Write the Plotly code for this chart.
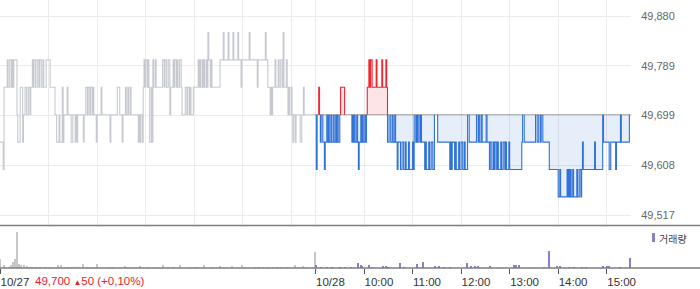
import plotly.graph_objects as go

# ---------------- data ----------------
BASE = 49700  # previous close (reference line)
A, B, C, D, E, F, G = 49850, 49800, 49750, 49700, 49650, 49600, 49550

# 10/27 minute offsets from 09:00 and price
d27_min = [0,4,5,9,10,12,14,15,16,17,21,22,25,28,29,31,33,35,37,38,40,41,42,44,46,48,49,51,53,54,57,62,68,70,73,74,77,78,79,83,84,88,90,93,94,95,96,103,104,106,108,109,111,112,114,115,116,119,120,125,126,136,137,145,148,151,152,155,156,158,159,161,162,171,172,173,174,176,177,178,179,180,182,183,184,185,187,188,189,190,192,193,201,203,204,206,208,210,211,214,215,216,218,219,220,222,224,225,229,231,232,234,235,236,239,245,246,247,248,250,251,252,253,255,256,257,258,260,261,262,272,276,277,282,283,288,289,294,295,298,299,308,309,318,319,328,329,331,334,335,336,337,340,341,344,345,347,349,350,351,354,355,356,357,358,360,361,362,363,365,366,371,373,375,376,390]
d27_price = [E,F,C,B,C,B,C,B,C,B,D,E,C,E,D,C,D,C,D,C,B,C,B,C,B,C,B,C,B,C,B,C,D,E,D,E,C,E,D,C,D,E,D,E,D,E,D,E,D,C,D,C,D,C,D,C,D,E,D,C,D,E,D,C,D,E,D,C,D,C,D,C,D,E,D,E,D,E,C,B,C,B,C,B,C,E,C,E,B,C,B,C,B,C,B,C,B,D,C,B,C,B,C,B,C,B,C,D,C,D,C,D,C,D,C,B,C,B,C,B,C,B,C,B,C,A,B,C,B,C,B,A,B,A,B,A,B,A,B,C,B,A,B,C,B,A,B,C,D,C,D,C,B,C,B,C,B,C,A,C,B,C,D,C,D,C,D,E,D,E,D,E,D,C,D,D]

# 10/28 minute offsets from 09:00 and price
d28_min = [0,1,2,4,5,6,7,9,11,12,14,15,16,17,19,20,22,23,25,26,27,28,30,31,36,45,46,47,48,49,51,52,53,54,56,57,58,59,61,62,63,64,66,67,68,70,75,76,82,83,87,88,89,91,93,95,96,98,99,101,102,105,107,109,111,112,115,116,120,121,122,124,125,126,127,129,130,131,135,136,137,140,141,143,145,147,151,166,167,168,169,172,173,174,177,178,180,182,184,185,188,190,199,201,202,203,205,206,211,212,215,216,218,220,221,222,224,225,226,229,230,232,234,235,236,239,240,255,256,258,272,274,276,278,279,281,289,300,302,303,311,312,313,314,315,316,318,319,323,324,326,328,329,330,331,345,346,355,356,363,365,371,372,377,378,388,390]
d28_price = [D,F,D,C,D,E,D,E,F,E,D,E,D,E,D,E,D,E,D,E,D,E,D,C,D,E,D,E,D,E,D,E,F,E,D,E,D,E,D,E,D,C,B,C,B,C,B,C,B,C,B,C,E,D,E,D,E,D,E,F,E,F,E,F,E,F,E,F,E,F,D,E,D,E,D,E,D,E,F,E,F,E,F,E,F,D,E,F,E,F,E,F,E,F,E,F,E,F,E,F,D,E,D,E,D,E,D,E,D,E,F,E,F,E,F,E,F,E,F,E,F,E,F,E,F,E,F,E,D,E,D,E,D,E,D,E,F,G,F,G,F,G,F,G,F,G,F,G,F,G,F,G,F,E,F,E,F,D,E,F,E,F,E,D,E,D,D]

# volume (shares): minute offsets and values
v27_min = [0,5,11,14,16,19,21,23,26,30,33,37,40,44,49,56,62,72,75,79,84,89,94,103,108,120,136,140,155,158,173,183,201,208,214,222,235,240,244,252,262,272,287,299,303,315,320,325,330,337,342,347,355,365,370,375,378,389]
v27_val = [9000,3000,1000,3000,6000,9000,36000,4000,3000,3000,2000,1000,1000,1000,1000,1000,1000,3000,3000,1000,1000,1000,1000,4000,1000,4000,1000,1000,2000,1000,2000,1000,3000,1000,1000,3000,1000,1000,1000,3000,1000,2000,2000,3000,1000,1000,1000,1000,1000,1000,1000,1000,1000,3000,1000,2000,1000,16000]
v28_min = [1,7,14,21,30,36,44,53,56,58,66,70,83,87,90,104,110,125,133,148,153,159,166,187,192,197,201,216,245,248,252,283,289,298,302,314,320,330,334,355,360,363,377,389]
v28_val = [3000,1000,1000,1000,1000,1000,1000,5000,3000,2000,3000,1000,2000,2000,1000,5000,1000,4000,6000,2000,2000,1000,1000,5000,2000,2000,2000,2000,3000,3000,3000,1000,17000,2000,2000,1000,1000,1000,1000,2000,2000,2000,1000,10000]

price_ticks = [49517, 49608, 49699, 49789, 49880]
price_tick_text = ["49,517", "49,608", "49,699", "49,789", "49,880"]
grid_hours = [0, 60, 120, 180, 240, 300, 360, 390, 450, 510, 570, 630, 690, 750]
time_ticks = [0, 390, 450, 510, 570, 630, 690, 750]
time_tick_text = ["10/27", "10/28", "10:00", "11:00", "12:00", "13:00", "14:00", "15:00"]
change_text = "49,700 <span style='font-size:8px'>▲</span>50 (+0,10%)"
volume_label = "거래량"

# ---------------- helpers ----------------
DAY = 390
x27 = list(d27_min)
x28 = [DAY + m for m in d28_min]


def side_segments(xs, ys, base, above):
    ox, oy = [], []
    n = len(xs)
    i = 0
    cond = (lambda v: v > base) if above else (lambda v: v < base)
    while i < n:
        if cond(ys[i]):
            j = i
            while j + 1 < n and cond(ys[j + 1]):
                j += 1
            ox.append(xs[i]); oy.append(base)
            for k in range(i, j + 1):
                ox.append(xs[k]); oy.append(ys[k])
            if j + 1 < n:
                ox.append(xs[j + 1]); oy.append(base)
            ox.append(None); oy.append(None)
            i = j + 1
        else:
            i += 1
    return ox, oy


GRAY = "#c6cad0"
BLUE = "#2f72d8"
RED = "#ef2530"
LW = 1.1

fig = go.Figure()

# fills
fig.add_trace(go.Scatter(x=[DAY, 2 * DAY], y=[BASE, BASE], mode="lines",
                         line=dict(width=0), hoverinfo="skip", showlegend=False))
fig.add_trace(go.Scatter(x=x28, y=[max(v, BASE) for v in d28_price], mode="lines",
                         line=dict(width=0, shape="hv"), fill="tonexty",
                         fillcolor="rgba(239,37,48,0.12)", hoverinfo="skip", showlegend=False))
fig.add_trace(go.Scatter(x=[DAY, 2 * DAY], y=[BASE, BASE], mode="lines",
                         line=dict(width=0), hoverinfo="skip", showlegend=False))
fig.add_trace(go.Scatter(x=x28, y=[min(v, BASE) for v in d28_price], mode="lines",
                         line=dict(width=0, shape="hv"), fill="tonexty",
                         fillcolor="rgba(47,114,216,0.12)", hoverinfo="skip", showlegend=False))

# previous day line
fig.add_trace(go.Scatter(x=x27, y=d27_price, mode="lines",
                         line=dict(color=GRAY, width=LW, shape="hv"), showlegend=False))

# today: below / above base
bx, by = side_segments(x28, d28_price, BASE, above=False)
rx, ry = side_segments(x28, d28_price, BASE, above=True)
fig.add_trace(go.Scatter(x=bx, y=by, mode="lines", connectgaps=False,
                         line=dict(color=BLUE, width=LW, shape="hv"), showlegend=False))
fig.add_trace(go.Scatter(x=rx, y=ry, mode="lines", connectgaps=False,
                         line=dict(color=RED, width=LW, shape="hv"), showlegend=False))

# dotted base line
fig.add_trace(go.Scatter(x=[DAY, 2 * DAY], y=[BASE, BASE], mode="lines",
                         line=dict(color="#555555", width=1, dash="1px,1px"),
                         hoverinfo="skip", showlegend=False))

# volume
fig.add_trace(go.Bar(x=v27_min, y=v27_val, width=1.3, marker=dict(color="#c6c6c6", line=dict(width=0)),
                     xaxis="x2", yaxis="y2", showlegend=False))
fig.add_trace(go.Bar(x=[DAY + m for m in v28_min], y=v28_val, width=1.3,
                     marker=dict(color="#8d7ecb", line=dict(width=0)),
                     xaxis="x2", yaxis="y2", showlegend=False))

PH = 268.0  # plot height in px
PW = 631.0
FONT = "Arial, Liberation Sans, sans-serif"

fig.update_layout(
    width=700, height=289,
    margin=dict(l=0, r=69, t=0, b=21),
    paper_bgcolor="white", plot_bgcolor="white",
    font=dict(family=FONT, size=11, color="#555"),
    bargap=0,
    xaxis=dict(range=[0, 2 * DAY], tickvals=grid_hours, showticklabels=False, ticks="",
               showgrid=True, gridcolor="#ebebeb", gridwidth=1, zeroline=False,
               showline=False, anchor="y"),
    yaxis=dict(domain=[1 - 225 / PH, 1], range=[49498.76, 49909.19], side="right",
               tickvals=price_ticks, ticktext=price_tick_text,
               ticks="outside", ticklen=7, tickcolor="rgba(0,0,0,0)",
               tickfont=dict(size=11, color="#666", family=FONT),
               showgrid=True, gridcolor="#ebebeb", gridwidth=1, zeroline=False, showline=False),
    xaxis2=dict(range=[0, 2 * DAY], anchor="y2", tickvals=time_ticks, ticktext=time_tick_text,
                ticks="outside", ticklen=5, tickcolor="#555", tickwidth=1,
                ticklabelposition="outside right", ticklabelstandoff=3,
                tickfont=dict(size=11.5, color="#333", family=FONT),
                showgrid=False, zeroline=False, showline=False),
    yaxis2=dict(domain=[0, 42 / PH], range=[0, 42000], visible=False, showgrid=False, zeroline=False),
    shapes=[
        dict(type="line", xref="paper", yref="paper", x0=0, x1=700 / PW,
             y0=(PH - 225.5) / PH, y1=(PH - 225.5) / PH, line=dict(color="#7d7d7d", width=1.5)),
        dict(type="line", xref="paper", yref="paper", x0=0, x1=700 / PW,
             y0=0, y1=0, line=dict(color="#7d7d7d", width=1.5)),
        dict(type="rect", xref="paper", yref="paper", x0=652 / PW, x1=655 / PW,
             y0=(PH - 242) / PH, y1=(PH - 233) / PH, line=dict(width=0), fillcolor="#8d7ecb"),
    ],
    annotations=[
        dict(text=change_text, xref="paper", yref="paper", x=33 / PW, y=(PH - 281) / PH,
             xanchor="left", yanchor="middle", showarrow=False,
             font=dict(size=11.5, color="#e8212b", family=FONT)),
        dict(text=volume_label, xref="paper", yref="paper", x=657 / PW, y=(PH - 238) / PH,
             xanchor="left", yanchor="middle", showarrow=False,
             font=dict(size=10, color="#444", family="Noto Sans CJK KR")),
    ],
)

fig.write_html("out.html")
